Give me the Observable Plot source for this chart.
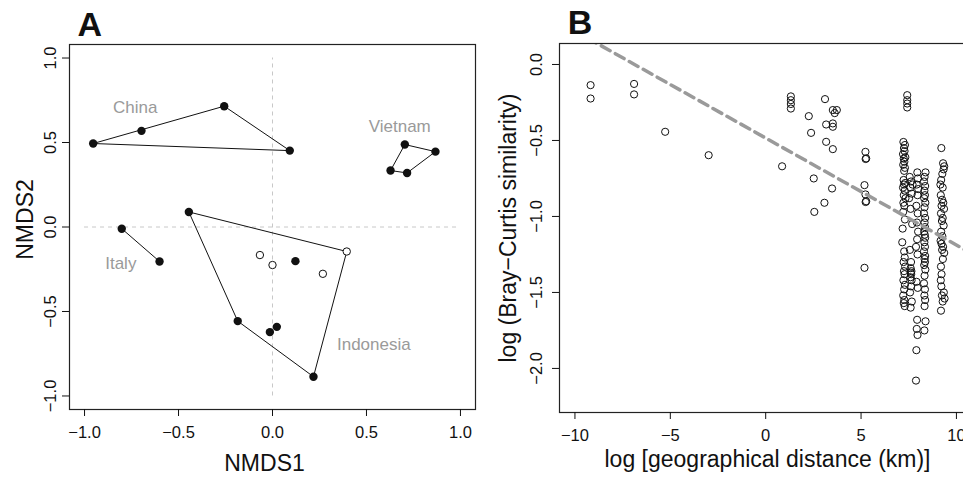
<!DOCTYPE html>
<html>
<head>
<meta charset="utf-8">
<script src="https://cdn.jsdelivr.net/npm/d3@7"></script>
<script src="https://cdn.jsdelivr.net/npm/@observablehq/plot@0.6"></script>
<style>
  html, body { margin: 0; padding: 0; background: #fff; overflow: hidden; }
  #fig { position: relative; width: 963px; height: 477px; overflow: hidden; }
  #panelA { position: absolute; left: 0; top: 0; width: 480px; }
  #panelB { position: absolute; left: 480px; top: 0; width: 496px; }
  #fig svg { max-width: none !important; display: block; }
</style>
</head>
<body>
<div id="fig"><div id="panelA"></div><div id="panelB"></div></div>
<script>
const FONT = '"Liberation Sans", Arial, Helvetica, sans-serif';

// ---- Panel A: NMDS ordination of sites ----
const siteCountry = ["China", "China", "China", "China",
  "Vietnam", "Vietnam", "Vietnam", "Vietnam",
  "Italy", "Italy",
  "Indonesia", "Indonesia", "Indonesia", "Indonesia", "Indonesia",
  "Indonesia", "Indonesia", "Indonesia", "Indonesia", "Indonesia"];
const nmds1 = [-0.954, -0.697, -0.257, 0.092,
  0.628, 0.704, 0.867, 0.716,
  -0.802, -0.601,
  -0.445, 0.395, 0.218, -0.185, 0.122,
  -0.014, 0.023, -0.067, 0.000, 0.268];
const nmds2 = [0.494, 0.569, 0.715, 0.452,
  0.334, 0.488, 0.446, 0.320,
  -0.010, -0.204,
  0.089, -0.145, -0.886, -0.557, -0.202,
  -0.622, -0.591, -0.166, -0.225, -0.277];
const siteFilled = [true, true, true, true,
  true, true, true, true,
  true, true,
  true, false, true, true, true,
  true, true, false, false, false];

const countryNames = ["China", "Vietnam", "Italy", "Indonesia"];
const countryLabelX = [-0.73, 0.677, -0.807, 0.539];
const countryLabelY = [0.707, 0.595, -0.218, -0.698];

const nmdsTicks = [-1, -0.5, 0, 0.5, 1];

// ---- Panel B: distance decay of community similarity ----
const distanceTicks = [-10, -5, 0, 5, 10];
const similarityTicks = [0, -0.5, -1, -1.5, -2];
const decayIntercept = -0.484;
const decaySlope = -0.0704;

// [log geographical distance (km), log Bray–Curtis similarity]
const similarityByDistance = [
  [-9.18, -0.136], [-9.18, -0.224], [-6.90, -0.128], [-6.90, -0.197], [-5.27, -0.443],
  [-2.99, -0.597], [0.86, -0.670], [1.32, -0.210], [1.32, -0.235], [1.32, -0.260],
  [1.32, -0.290], [2.26, -0.340], [3.11, -0.228], [3.52, -0.300], [3.73, -0.300],
  [3.62, -0.320], [2.38, -0.450], [3.17, -0.395], [3.52, -0.388], [3.52, -0.410],
  [3.17, -0.509], [3.52, -0.557], [2.52, -0.750], [3.48, -0.816], [3.08, -0.910],
  [2.55, -0.970], [5.23, -0.575], [5.27, -0.618], [5.24, -0.622], [5.18, -0.794],
  [5.23, -0.855], [5.27, -0.900], [5.24, -0.905], [5.18, -1.338],
  [7.42, -0.202], [7.42, -0.235], [7.42, -0.257], [7.42, -0.283],
  [7.22, -0.51], [7.30, -0.53], [7.25, -0.55], [7.28, -0.57], [7.20, -0.59],
  [7.32, -0.61], [7.24, -0.62], [7.27, -0.64], [7.21, -0.66], [7.30, -0.68],
  [7.26, -0.70], [7.23, -0.76], [7.31, -0.78], [7.25, -0.79], [7.20, -0.81],
  [7.29, -0.83], [7.24, -0.86], [7.33, -0.88], [7.22, -0.91], [7.27, -0.93],
  [7.21, -0.97], [7.30, -1.02], [7.18, -1.08], [7.16, -1.17], [7.26, -1.23],
  [7.29, -1.27], [7.23, -1.30], [7.31, -1.33], [7.25, -1.36], [7.28, -1.38],
  [7.22, -1.42], [7.30, -1.45], [7.26, -1.48], [7.21, -1.52], [7.27, -1.55],
  [7.24, -1.57], [7.29, -1.59],
  [7.55, -0.74], [7.62, -0.77], [7.70, -0.79], [7.58, -0.81], [7.66, -0.85],
  [7.52, -0.88], [7.60, -0.95], [7.68, -1.05], [7.56, -1.22], [7.62, -1.30],
  [7.60, -1.34], [7.64, -1.36], [7.61, -1.37], [7.63, -1.38], [7.59, -1.40],
  [7.65, -1.42], [7.62, -1.46], [7.57, -1.50], [7.66, -1.56], [7.60, -1.60],
  [7.95, -0.71], [7.98, -0.75], [7.92, -0.79], [8.00, -0.82], [7.96, -0.86],
  [7.90, -0.93], [7.97, -0.98], [7.93, -1.04], [7.99, -1.10], [7.94, -1.15],
  [7.88, -1.20], [7.96, -1.25], [7.91, -1.43], [7.97, -1.47], [7.94, -1.68],
  [7.92, -1.74], [7.96, -1.78], [7.90, -1.88], [7.88, -2.08],
  [8.38, -0.71], [8.33, -0.74], [8.30, -0.77], [8.36, -0.80], [8.32, -0.83],
  [8.35, -0.86], [8.31, -0.88], [8.37, -0.91], [8.33, -0.94], [8.30, -0.98],
  [8.36, -1.01], [8.33, -1.04], [8.35, -1.07], [8.31, -1.10], [8.34, -1.12],
  [8.36, -1.14], [8.32, -1.17], [8.35, -1.20], [8.30, -1.23], [8.36, -1.26],
  [8.33, -1.28], [8.35, -1.30], [8.31, -1.32], [8.37, -1.35], [8.33, -1.39],
  [8.30, -1.44], [8.35, -1.48], [8.32, -1.52], [8.36, -1.55], [8.33, -1.59],
  [8.38, -1.69], [8.32, -1.75],
  [9.21, -0.55], [9.30, -0.65], [9.36, -0.67], [9.33, -0.69], [9.26, -0.72],
  [9.20, -0.76], [9.16, -0.79], [9.28, -0.81], [9.18, -0.86], [9.25, -0.89],
  [9.31, -0.91], [9.22, -0.93], [9.35, -0.95], [9.19, -0.98], [9.28, -1.01],
  [9.24, -1.03], [9.33, -1.06], [9.20, -1.10], [9.26, -1.13], [9.17, -1.16],
  [9.22, -1.18], [9.30, -1.20], [9.25, -1.22], [9.36, -1.24], [9.29, -1.28],
  [9.19, -1.33], [9.22, -1.38], [9.18, -1.42], [9.21, -1.46], [9.34, -1.50],
  [9.24, -1.52], [9.38, -1.54], [9.28, -1.56], [9.19, -1.62]
];

// ---------- build panel A ----------
const sites = siteCountry.map((c, i) => ({country: c, x: nmds1[i], y: nmds2[i], filled: siteFilled[i]}));

// convex hull outline around each country's sites (a segment when only two)
const hullRows = [];
for (const [country, pts] of d3.group(sites, d => d.country)) {
  const xy = pts.map(d => [d.x, d.y]);
  let ring = xy;
  if (xy.length >= 3) {
    const h = d3.polygonHull(xy);
    ring = [...h, h[0]];
  }
  ring.forEach(p => hullRows.push({country, x: p[0], y: p[1]}));
}
const countryLabels = countryNames.map((n, i) => ({name: n, x: countryLabelX[i], y: countryLabelY[i]}));
const fmt1 = d3.format(".1f");

const plotA = Plot.plot({
  width: 480, height: 477,
  marginLeft: 69, marginRight: 5, marginTop: 44, marginBottom: 68,
  style: {fontFamily: FONT, fontSize: "16.5px", background: "transparent", color: "#111"},
  x: {domain: [-1.08, 1.08]},
  y: {domain: [-1.08, 1.08]},
  marks: [
    Plot.ruleX([0], {y1: nmdsTicks[0], y2: nmdsTicks[4], stroke: "#c8c8c8", strokeDasharray: "4,4"}),
    Plot.ruleY([0], {x1: nmdsTicks[0], x2: nmdsTicks[4], stroke: "#c8c8c8", strokeDasharray: "4,4"}),
    Plot.line(hullRows, {x: "x", y: "y", z: "country", stroke: "#111", strokeWidth: 1}),
    Plot.dot(sites.filter(d => d.filled), {x: "x", y: "y", r: 4.2, fill: "#111", stroke: "none"}),
    Plot.dot(sites.filter(d => !d.filled), {x: "x", y: "y", r: 3.7, fill: "white", stroke: "#111", strokeWidth: 1}),
    Plot.text(countryLabels, {x: "x", y: "y", text: "name", fill: "#9a9a9a", fontSize: 17}),
    Plot.frame({stroke: "#222", strokeWidth: 1.2}),
    Plot.axisX({ticks: nmdsTicks, tickSize: 7, tickPadding: 10, tickFormat: fmt1, label: null}),
    Plot.axisY({ticks: nmdsTicks, tickSize: 7, tickPadding: 7, tickRotate: -90, tickFormat: fmt1, label: null}),
    Plot.text(["NMDS1"], {text: d => d, frameAnchor: "bottom", textAnchor: "middle", lineAnchor: "bottom", dx: -8, dy: 61.7, fontSize: 23}),
    Plot.text(["NMDS2"], {text: d => d, frameAnchor: "left", textAnchor: "middle", rotate: -90, lineAnchor: "bottom", dx: -36.7, dy: -7.5, fontSize: 23}),
    Plot.text(["A"], {text: d => d, frameAnchor: "top-left", textAnchor: "start", lineAnchor: "bottom", dx: 8, dy: -8.3, fontSize: 34, fontWeight: "bold"})
  ]
});
document.getElementById("panelA").append(plotA);

// ---------- build panel B ----------
const pairs = similarityByDistance.map(([d, s]) => ({dist: d, sim: s}));
const xDomainB = [-10.81, 11.0];
const decayLine = xDomainB.map(d => ({dist: d, sim: decayIntercept + decaySlope * d}));

const plotB = Plot.plot({
  width: 496, height: 477,
  marginLeft: 79, marginRight: 1, marginTop: 43, marginBottom: 65,
  style: {fontFamily: FONT, fontSize: "16.5px", background: "transparent", color: "#111"},
  x: {domain: xDomainB},
  y: {domain: [-2.29, 0.138]},
  marks: [
    Plot.dot(pairs, {x: "dist", y: "sim", r: 3.6, fill: "none", stroke: "#111", strokeWidth: 1}),
    Plot.line(decayLine, {x: "dist", y: "sim", stroke: "#9a9a9a", strokeWidth: 3.5, strokeDasharray: "10,6", clip: true}),
    Plot.frame({stroke: "#222", strokeWidth: 1.2}),
    Plot.axisX({ticks: distanceTicks, tickSize: 7, tickPadding: 10, tickFormat: d3.format("d"), label: null}),
    Plot.axisY({ticks: similarityTicks, tickSize: 7, tickPadding: 10.3, tickRotate: -90, tickFormat: fmt1, label: null}),
    Plot.text(["log [geographical distance (km)]"], {text: d => d, frameAnchor: "bottom", textAnchor: "middle", lineAnchor: "bottom", dy: 54, fontSize: 23}),
    Plot.text(["log (Bray\u2212Curtis similarity)"], {text: d => d, frameAnchor: "left", textAnchor: "middle", rotate: -90, lineAnchor: "bottom", dx: -44, fontSize: 23}),
    Plot.text(["B"], {text: d => d, frameAnchor: "top-left", textAnchor: "start", lineAnchor: "bottom", dx: 8.3, dy: -10, fontSize: 34, fontWeight: "bold"})
  ]
});
document.getElementById("panelB").append(plotB);
</script>
</body>
</html>
